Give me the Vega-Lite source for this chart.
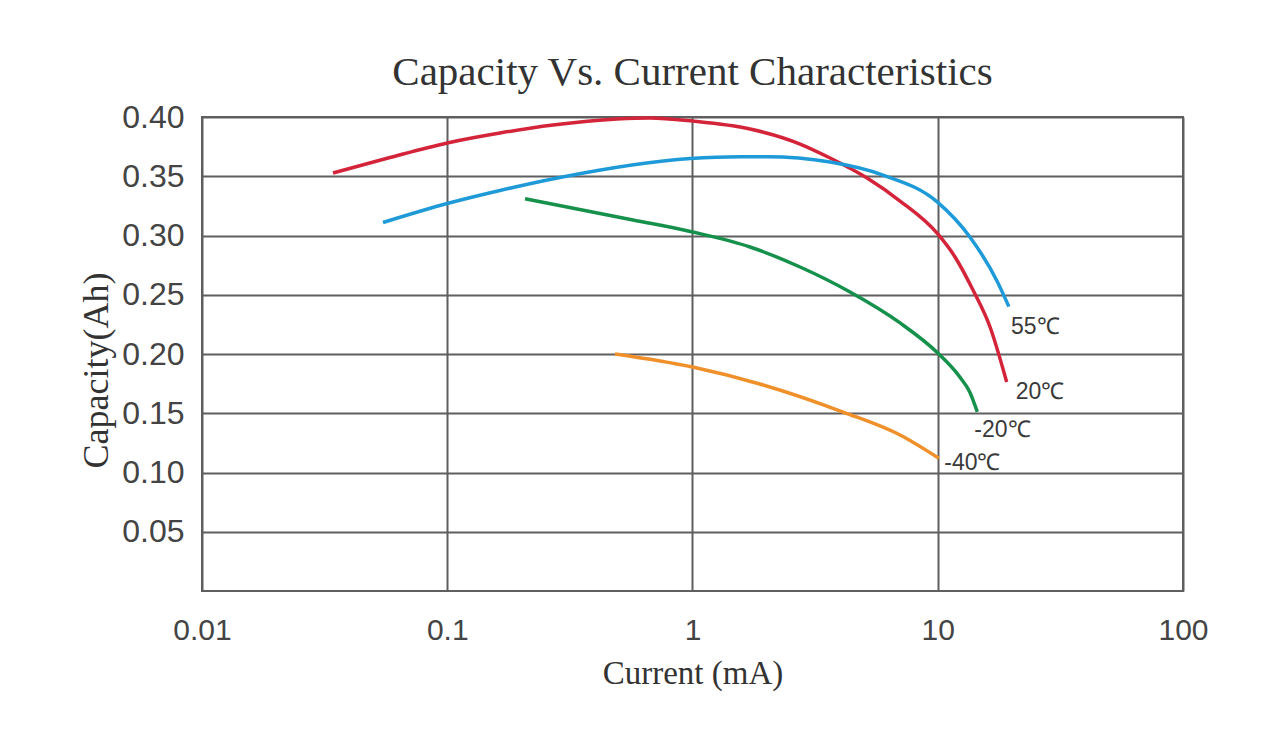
{
  "$schema": "https://vega.github.io/schema/vega-lite/v6.json",
  "width": 981,
  "height": 474,
  "autosize": {"type": "none"},
  "padding": {"left": 202, "top": 117, "right": 91, "bottom": 142},
  "background": "white",
  "title": {
    "text": "Capacity Vs. Current Characteristics",
    "font": "Liberation Serif",
    "fontSize": 41,
    "fontWeight": "normal",
    "color": "#333333",
    "frame": "group",
    "anchor": "middle",
    "offset": 7
  },
  "config": {
    "view": {"stroke": "#5f5f5f", "strokeWidth": 2},
    "axis": {
      "domain": false,
      "ticks": false,
      "tickSize": 0,
      "grid": true,
      "gridColor": "#5f5f5f",
      "gridWidth": 2,
      "gridOpacity": 1,
      "labelFont": "Liberation Sans",
      "labelFontSize": 30,
      "labelColor": "#444444",
      "labelFlush": false,
      "titleFont": "Liberation Serif",
      "titleFontSize": 33,
      "titleFontWeight": "normal",
      "titleColor": "#333333"
    }
  },
  "datasets": {
    "curves": [
      {"I": 0.0342, "C": 0.3527, "T": "20℃"},
      {"I": 0.0584, "C": 0.3658, "T": "20℃"},
      {"I": 0.1, "C": 0.3781, "T": "20℃"},
      {"I": 0.164, "C": 0.3865, "T": "20℃"},
      {"I": 0.27, "C": 0.3932, "T": "20℃"},
      {"I": 0.492, "C": 0.3983, "T": "20℃"},
      {"I": 0.671, "C": 0.3992, "T": "20℃"},
      {"I": 1.0, "C": 0.3966, "T": "20℃"},
      {"I": 1.716, "C": 0.3899, "T": "20℃"},
      {"I": 2.745, "C": 0.3772, "T": "20℃"},
      {"I": 3.64, "C": 0.3654, "T": "20℃"},
      {"I": 5.15, "C": 0.3485, "T": "20℃"},
      {"I": 7.02, "C": 0.3291, "T": "20℃"},
      {"I": 10.0, "C": 0.3013, "T": "20℃"},
      {"I": 11.76, "C": 0.2819, "T": "20℃"},
      {"I": 13.92, "C": 0.254, "T": "20℃"},
      {"I": 16.34, "C": 0.2228, "T": "20℃"},
      {"I": 19.1, "C": 0.1764, "T": "20℃"},
      {"I": 0.0547, "C": 0.311, "T": "55℃"},
      {"I": 0.1, "C": 0.327, "T": "55℃"},
      {"I": 0.164, "C": 0.338, "T": "55℃"},
      {"I": 0.288, "C": 0.349, "T": "55℃"},
      {"I": 0.98, "C": 0.365, "T": "55℃"},
      {"I": 1.56, "C": 0.3665, "T": "55℃"},
      {"I": 2.01, "C": 0.3665, "T": "55℃"},
      {"I": 3.64, "C": 0.362, "T": "55℃"},
      {"I": 5.98, "C": 0.351, "T": "55℃"},
      {"I": 10.0, "C": 0.328, "T": "55℃"},
      {"I": 13.5, "C": 0.299, "T": "55℃"},
      {"I": 17.4, "C": 0.262, "T": "55℃"},
      {"I": 19.5, "C": 0.24, "T": "55℃"},
      {"I": 0.2075, "C": 0.331, "T": "-20℃"},
      {"I": 0.572, "C": 0.3131, "T": "-20℃"},
      {"I": 1.0, "C": 0.303, "T": "-20℃"},
      {"I": 1.716, "C": 0.2903, "T": "-20℃"},
      {"I": 2.745, "C": 0.2734, "T": "-20℃"},
      {"I": 4.39, "C": 0.2523, "T": "-20℃"},
      {"I": 7.02, "C": 0.2262, "T": "-20℃"},
      {"I": 10.0, "C": 0.2008, "T": "-20℃"},
      {"I": 12.3, "C": 0.1806, "T": "-20℃"},
      {"I": 13.5, "C": 0.168, "T": "-20℃"},
      {"I": 14.5, "C": 0.1511, "T": "-20℃"},
      {"I": 0.483, "C": 0.2, "T": "-40℃"},
      {"I": 1.0, "C": 0.189, "T": "-40℃"},
      {"I": 1.88, "C": 0.1747, "T": "-40℃"},
      {"I": 4.11, "C": 0.151, "T": "-40℃"},
      {"I": 7.02, "C": 0.1316, "T": "-40℃"},
      {"I": 10.1, "C": 0.112, "T": "-40℃"}
    ],
    "labels": [
      {"I": 19.89, "C": 0.223, "T": "55℃"},
      {"I": 20.8, "C": 0.1682, "T": "20℃"},
      {"I": 14.09, "C": 0.1359, "T": "-20℃"},
      {"I": 10.63, "C": 0.1083, "T": "-40℃"}
    ]
  },
  "layer": [
    {
      "data": {"name": "curves"},
      "mark": {"type": "line", "interpolate": "monotone", "strokeWidth": 3.5},
      "encoding": {
        "x": {
          "field": "I",
          "type": "quantitative",
          "scale": {"type": "log", "domain": [0.01, 100], "nice": false},
          "axis": {
            "title": "Current (mA)",
            "values": [0.01, 0.1, 1, 10, 100],
            "format": "~g",
            "labelPadding": 24,
            "titlePadding": 12
          }
        },
        "y": {
          "field": "C",
          "type": "quantitative",
          "scale": {"domain": [0, 0.4], "nice": false, "zero": false},
          "axis": {
            "title": "Capacity(Ah)",
            "values": [0.05, 0.1, 0.15, 0.2, 0.25, 0.3, 0.35, 0.4],
            "format": ".2f",
            "labelFontSize": 32,
            "labelPadding": 18,
            "titleFontSize": 36,
            "titlePadding": 6,
            "titleY": 253
          }
        },
        "color": {
          "field": "T",
          "type": "nominal",
          "scale": {
            "domain": ["55℃", "20℃", "-20℃", "-40℃"],
            "range": ["#1e9ad8", "#d4243a", "#16914c", "#f0902a"]
          },
          "legend": null
        }
      }
    },
    {
      "data": {"name": "labels"},
      "mark": {
        "type": "text",
        "align": "left",
        "baseline": "middle",
        "font": "Liberation Sans",
        "fontSize": 23,
        "color": "#3a3a3a"
      },
      "encoding": {
        "x": {"field": "I", "type": "quantitative"},
        "y": {"field": "C", "type": "quantitative"},
        "text": {"field": "T"}
      }
    }
  ]
}
